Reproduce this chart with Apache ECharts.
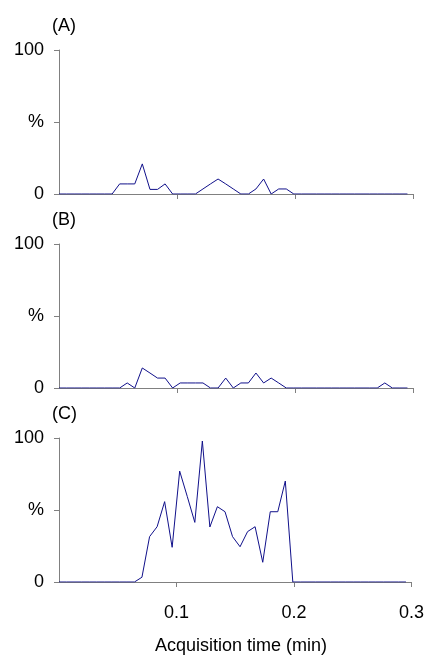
<!DOCTYPE html>
<html>
<head>
<meta charset="utf-8">
<script src="https://cdn.jsdelivr.net/npm/echarts@6/dist/echarts.min.js"></script>
<style>
html,body{margin:0;padding:0;background:#fff;}
#chart{width:427px;height:656px;}
</style>
</head>
<body>
<div id="chart"></div>
<script>
// Acquisition time (min) of each scan
var times = [0.0000,0.0064,0.0128,0.0193,0.0257,0.0321,0.0385,0.0450,0.0514,0.0578,
             0.0642,0.0706,0.0771,0.0835,0.0899,0.0963,0.1027,0.1092,0.1156,0.1220,
             0.1284,0.1348,0.1413,0.1477,0.1541,0.1605,0.1669,0.1734,0.1798,0.1862,
             0.1926,0.1990,0.2055,0.2119,0.2183,0.2247,0.2311,0.2376,0.2440,0.2504,
             0.2568,0.2632,0.2697,0.2761,0.2825,0.2889,0.2953];
// Relative intensity (%) per panel
var seriesA = [0,0,0,0,0,0,0,0,7,7,
               7,20.9,3.2,3.2,7,0,0,0,0,3.5,
               7,10.4,7,3.5,0,0,3.5,10.4,0,3.5,
               3.5,0,0,0,0,0,0,0,0,0,
               0,0,0,0,0,0,0];
var seriesB = [0,0,0,0,0,0,0,0,0,3.5,
               0,13.9,10.4,6.9,6.9,0,3.5,3.5,3.5,3.5,
               0,0,6.9,0,3.5,3.5,10.4,3.5,6.9,3.5,
               0,0,0,0,0,0,0,0,0,0,
               0,0,0,3.5,0,0,0];
var seriesC = [0,0,0,0,0,0,0,0,0,0,
               0,3.3,31.5,38.4,55.8,24.1,77,59.3,41.4,97.9,
               38.2,52.3,48.8,31.5,24.5,35,38.4,13.7,48.8,48.8,
               70.1,0,0,0,0,0,0,0,0,0,
               0,0,0,0,0,0,0];
var panelLabels = ['(A)','(B)','(C)'];
var xTicks = [0.1,0.2,0.3];
var yTicks = [0,50,100];
var xTitle = 'Acquisition time (min)';

var FONT = 'Liberation Sans, Arial, sans-serif';
var FS = 18;
var all = [seriesA, seriesB, seriesC];
var tops = [50, 244, 438];
var H = 144;

var grids = [], xAxes = [], yAxes = [], series = [], graphics = [];
for (var i = 0; i < 3; i++) {
  grids.push({left: 59, right: 14, top: tops[i], height: H, containLabel: false});
  xAxes.push({
    type: 'value', gridIndex: i, min: 0, max: 0.3, interval: 0.1,
    axisLine: {show: true, lineStyle: {color: '#808080', width: 1}},
    axisTick: {show: true, length: 5, lineStyle: {color: '#808080'}, customValues: xTicks},
    axisLabel: {show: i === 2, color: '#000', fontFamily: FONT, fontSize: FS, margin: 22, customValues: xTicks,
                formatter: function (v) { return String(v); }},
    splitLine: {show: false}
  });
  yAxes.push({
    type: 'value', gridIndex: i, min: 0, max: 100, interval: 50,
    axisLine: {show: true, lineStyle: {color: '#808080', width: 1}},
    axisTick: {show: true, length: 5, lineStyle: {color: '#808080'}},
    axisLabel: {color: '#000', fontFamily: FONT, fontSize: FS, margin: 15,
                formatter: function (v) { return v === 50 ? '%' : String(v); }},
    splitLine: {show: false}
  });
  var d = [];
  for (var j = 0; j < times.length; j++) d.push([times[j], all[i][j]]);
  series.push({
    type: 'line', xAxisIndex: i, yAxisIndex: i, data: d,
    symbol: 'none', lineStyle: {color: '#10108a', width: 1}, silent: true, animation: false
  });
  graphics.push({
    type: 'text', left: 52, top: tops[i] - 33,
    style: {text: panelLabels[i], fill: '#000', font: FS + 'px ' + FONT}
  });
}
graphics.push({
  type: 'text', left: 155, top: 637,
  style: {text: xTitle, fill: '#000', font: FS + 'px ' + FONT}
});

var chart = echarts.init(document.getElementById('chart'), null, {renderer: 'canvas'});
chart.setOption({
  animation: false,
  backgroundColor: '#fff',
  grid: grids, xAxis: xAxes, yAxis: yAxes, series: series, graphic: graphics
});
</script>
</body>
</html>
